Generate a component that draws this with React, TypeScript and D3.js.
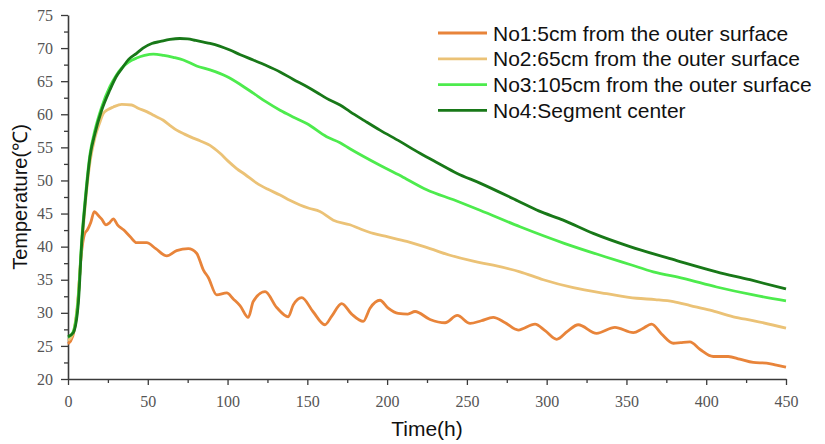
import React, { useEffect, useRef } from "react";
import * as d3 from "d3";

// time (h), temperature (°C)
const no1 = [
  [0, 25.3], [3, 26.5], [6, 31], [8, 38], [9.2, 40.5], [10.5, 42], [12.1, 42.5], [14.2, 43.6],
  [16.5, 45.3], [19, 44.7], [21, 44.2], [23.8, 43.3], [26, 43.6], [28.4, 44.2], [31, 43.3],
  [35, 42.5], [39, 41.5], [43, 40.6], [49.3, 40.6], [55, 39.7], [61.9, 38.6], [68.1, 39.4],
  [75.4, 39.7], [80.6, 39.0], [84.8, 36.5], [88, 35.3], [93.2, 32.7], [99.5, 33.0], [103.6, 32.1],
  [107.8, 31.1], [113, 29.3], [116.1, 31.7], [123.5, 33.2], [130.8, 30.8], [138, 29.4],
  [141.2, 31.2], [146.5, 32.3], [153.5, 30.2], [161, 28.2], [165.3, 29.5], [171.5, 31.4],
  [177.8, 29.8], [185, 28.7], [189.3, 30.7], [195.5, 31.9], [200.7, 30.7], [207, 29.9],
  [213, 29.8], [217.5, 30.2], [226.9, 29.0], [236.3, 28.5], [244, 29.6], [252, 28.4],
  [259, 28.8], [266.5, 29.3], [274, 28.5], [282.2, 27.4], [292.7, 28.3], [299, 27.3],
  [306.3, 26.0], [313, 27.2], [319.8, 28.2], [331.3, 26.9], [342.8, 27.8], [354.3, 27.0],
  [360, 27.6], [365.8, 28.3], [372, 26.8], [379.4, 25.4], [384, 25.5], [389.8, 25.6],
  [396, 24.5], [404.4, 23.4], [413.8, 23.4], [421, 23.0], [429.5, 22.5], [437.8, 22.4],
  [444, 22.1], [450, 21.8],
];

const no2 = [
  [0, 25.8], [3, 26.8], [6, 31.5], [8.6, 40], [10.7, 46], [13.8, 52.8], [16.9, 56.5], [20, 58.8],
  [22.1, 60.1], [25, 60.7], [28.4, 61.1], [33.7, 61.5], [39.9, 61.4], [44, 60.9], [49.3, 60.4],
  [54, 59.8], [59.7, 59.1], [64, 58.3], [68.1, 57.6], [73, 57.0], [78.5, 56.4], [82.7, 56.0],
  [89, 55.3], [95.3, 54.1], [100, 53.0], [105.7, 51.8], [111, 50.9], [118.3, 49.6], [125, 48.7],
  [132.9, 47.8], [139, 47.0], [145.4, 46.3], [151, 45.8], [157.9, 45.3], [166.3, 44.0],
  [176.7, 43.3], [183, 42.7], [191.3, 42.0], [200, 41.5], [212.3, 40.8], [226.9, 39.7],
  [239.4, 38.7], [254, 37.8], [266.5, 37.2], [283.3, 36.2], [297.9, 35.0], [316.7, 33.8],
  [337.6, 32.9], [356.4, 32.2], [368, 32.0], [379.4, 31.7], [390, 31.1], [402.4, 30.4],
  [417, 29.4], [430, 28.8], [450, 27.7],
];

const no3 = [
  [0, 26.3], [3, 27], [6.5, 32.5], [8.6, 41], [10.7, 47], [13.8, 54], [16.9, 57.6], [21, 61],
  [26.3, 64.2], [30, 65.8], [33.7, 67.0], [38, 67.9], [43, 68.5], [48, 68.9], [53.5, 69.1],
  [60, 68.9], [66, 68.6], [72.3, 68.2], [80.6, 67.3], [89, 66.7], [99.5, 65.7], [108, 64.5],
  [116.1, 63.2], [124, 61.9], [132.9, 60.6], [141, 59.6], [149.6, 58.6], [162.1, 56.6],
  [170.5, 55.7], [176.7, 54.8], [195.5, 52.3], [210, 50.5], [224.8, 48.6], [242.5, 47.0],
  [258.2, 45.5], [283.3, 43.0], [311, 40.5], [337.6, 38.4], [352.2, 37.3], [366.8, 36.2],
  [385.6, 35.2], [406.5, 33.9], [429.5, 32.7], [450, 31.8],
];

const no4 = [
  [0, 26.4], [3.3, 27.0], [6.5, 31.5], [8.6, 40.5], [10.7, 46.5], [13.8, 53.6], [16.9, 57.1],
  [21.1, 60.6], [26.3, 63.7], [30, 65.6], [33.7, 66.9], [38, 68.3], [43, 69.2], [47, 70.0],
  [52.5, 70.7], [58, 71.0], [63.9, 71.3], [70, 71.45], [75, 71.4], [80, 71.15], [85, 70.9],
  [89, 70.7], [95, 70.3], [101.5, 69.7], [108, 69.0], [116.1, 68.2], [124, 67.4], [132.9, 66.4],
  [141, 65.3], [149.6, 64.2], [156, 63.3], [162.1, 62.4], [170.5, 61.4], [176.7, 60.4],
  [186, 59.0], [195.5, 57.6], [208, 55.9], [220.6, 54.1], [232, 52.6], [243.6, 51.1],
  [258.2, 49.6], [282, 46.9], [295, 45.4], [310.4, 44.0], [329.2, 42.0], [352.2, 40.0],
  [381.5, 37.9], [406.5, 36.2], [427.4, 35.0], [450, 33.6],
];

const seriesNames = [
  "No1:5cm from the outer surface",
  "No2:65cm from the outer surface",
  "No3:105cm from the outer surface",
  "No4:Segment center",
];
const seriesData = [no1, no2, no3, no4];
const colors = ["#e8843a", "#ebc276", "#4deb4d", "#187818"];

const xTicks = [0, 50, 100, 150, 200, 250, 300, 350, 400, 450];
const yTicks = [20, 25, 30, 35, 40, 45, 50, 55, 60, 65, 70, 75];

export default function App() {
  const ref = useRef<SVGSVGElement>(null);
  const width = 825;
  const height = 444;

  useEffect(() => {
    const svg = d3.select(ref.current);
    const margin = { top: 15, right: 39, bottom: 65, left: 68 };

    const x = d3
      .scaleLinear()
      .domain([0, 450])
      .range([margin.left, width - margin.right]);
    const y = d3
      .scaleLinear()
      .domain([20, 75])
      .range([height - margin.bottom, margin.top]);

    const tickFont = "'Liberation Serif', serif";
    const sansFont = "'Liberation Sans', Arial, sans-serif";
    const axisColor = "#3a3a3a";

    // x axis with minor ticks
    const xAxis = svg
      .append("g")
      .attr("transform", `translate(0,${y(20)})`)
      .call(d3.axisBottom(x).tickValues(d3.range(0, 451, 25)).tickSize(6).tickSizeOuter(0)
        .tickFormat(d => (xTicks.includes(+d) ? String(d) : "")));
    xAxis.select(".domain").attr("stroke", axisColor).attr("stroke-width", 1.6);
    xAxis.selectAll(".tick line")
      .attr("stroke", axisColor)
      .attr("stroke-width", 1.3)
      .attr("y2", d => (xTicks.includes(+d) ? 6 : 4));
    xAxis.selectAll(".tick text")
      .attr("font-family", tickFont)
      .attr("font-size", 16)
      .attr("fill", "#555")
      .attr("dy", "1em")
      .attr("y", 12);

    // y axis with minor ticks
    const yAxis = svg
      .append("g")
      .attr("transform", `translate(${x(0)},0)`)
      .call(d3.axisLeft(y).tickValues(d3.range(20, 75.1, 2.5)).tickSize(7).tickSizeOuter(0)
        .tickFormat(d => (yTicks.includes(+d) ? String(d) : "")));
    yAxis.select(".domain").attr("stroke", axisColor).attr("stroke-width", 1.6);
    yAxis.selectAll(".tick line")
      .attr("stroke", axisColor)
      .attr("stroke-width", 1.3)
      .attr("x2", d => (yTicks.includes(+d) ? -7 : -4));
    yAxis.selectAll(".tick text")
      .attr("font-family", tickFont)
      .attr("font-size", 16)
      .attr("fill", "#555")
      .attr("x", -15);

    const line = d3
      .line<number[]>()
      .x(d => x(d[0]))
      .y(d => y(d[1]))
      .curve(d3.curveMonotoneX);

    svg
      .append("g")
      .selectAll("path")
      .data(seriesData)
      .join("path")
      .attr("d", d => line(d))
      .attr("fill", "none")
      .attr("stroke", (d, i) => colors[i])
      .attr("stroke-width", 2.8)
      .attr("stroke-linejoin", "round");

    // axis titles
    svg
      .append("text")
      .attr("transform", `translate(27,${(y(20) + y(75)) / 2}) rotate(-90)`)
      .attr("text-anchor", "middle")
      .attr("font-family", sansFont)
      .attr("font-size", 20)
      .attr("fill", "#111")
      .text("Temperature(℃)");

    svg
      .append("text")
      .attr("x", (x(0) + x(450)) / 2)
      .attr("y", 436)
      .attr("text-anchor", "middle")
      .attr("font-family", sansFont)
      .attr("font-size", 21)
      .attr("fill", "#111")
      .text("Time(h)");

    // legend
    const legend = svg
      .append("g")
      .selectAll("g")
      .data(seriesNames)
      .join("g")
      .attr("transform", (d, i) => `translate(438,${33 + i * 25.8})`);
    legend
      .append("line")
      .attr("x1", 0)
      .attr("x2", 49)
      .attr("stroke", (d, i) => colors[i])
      .attr("stroke-width", 2.8);
    legend
      .append("text")
      .attr("x", 55)
      .attr("dy", "0.36em")
      .attr("font-family", sansFont)
      .attr("font-size", 21)
      .attr("fill", "#111")
      .text(d => d);

    return () => {
      svg.selectAll("*").remove();
    };
  }, []);

  return (
    <svg
      ref={ref}
      width={width}
      height={height}
      style={{ position: "absolute", left: 0, top: 0, background: "#fff" }}
    />
  );
}
